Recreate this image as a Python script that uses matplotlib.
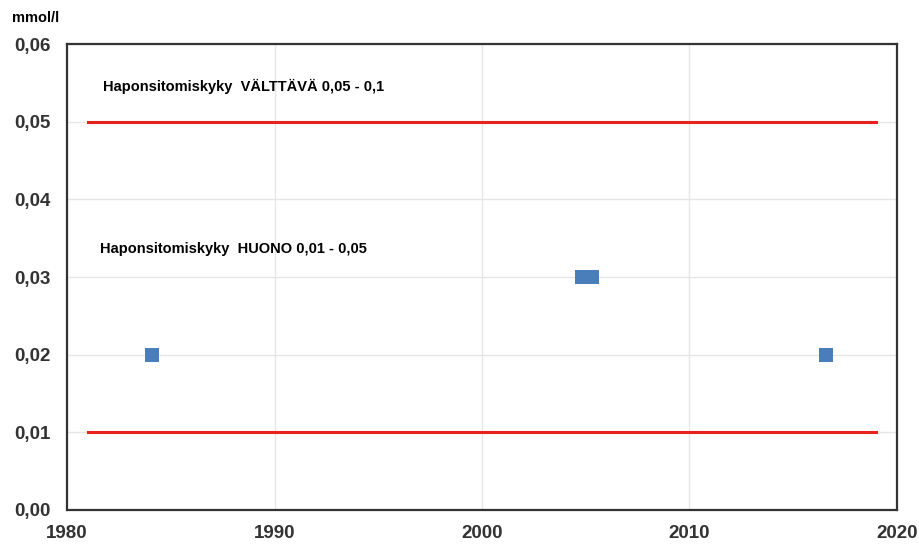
import matplotlib.pyplot as plt
import numpy as np

plt.rcParams['font.family'] = ['Liberation Sans', 'DejaVu Sans']

# data
years = [1984.1, 2004.8, 2005.3, 2016.6]
values = [0.02, 0.03, 0.03, 0.02]
limit_years = [1981, 2019]
limits = [0.05, 0.01]
xticks = [1980, 1990, 2000, 2010, 2020]
yticks = [0.0, 0.01, 0.02, 0.03, 0.04, 0.05, 0.06]

fig = plt.figure(figsize=(9.19, 5.46), dpi=100)
ax = fig.add_axes([0.073, 0.066, 0.903, 0.853])

for lim in limits:
    ax.plot(limit_years, [lim, lim], color='#e8231c', lw=2.2, zorder=3)

ax.scatter(years, values, marker='s', s=110, color='#4a7ebb', zorder=4, linewidths=0)

ax.text(1981.75, 0.0546, 'Haponsitomiskyky  VÄLTTÄVÄ 0,05 - 0,1', fontsize=10.5,
        fontweight='bold', va='center')
ax.text(1981.6, 0.0336, 'Haponsitomiskyky  HUONO 0,01 - 0,05', fontsize=10.5,
        fontweight='bold', va='center')

ax.set_xlim(1980, 2020)
ax.set_ylim(0, 0.06)
ax.set_xticks(xticks)
ax.set_yticks(yticks)
ax.set_yticklabels(['{:.2f}'.format(v).replace('.', ',') for v in yticks])
ax.tick_params(length=0, labelsize=13.5)
ax.tick_params(axis='x', pad=11)
ax.tick_params(axis='y', pad=12)
for lab in ax.get_xticklabels() + ax.get_yticklabels():
    lab.set_fontweight('bold')
    lab.set_color('#333333')
ax.grid(True, color='#e6e6e6', lw=1)
ax.set_axisbelow(True)
for sp in ax.spines.values():
    sp.set_color('#333333')
    sp.set_linewidth(1.6)

fig.text(0.013, 0.967, 'mmol/l', fontsize=10.5, fontweight='bold', va='center')

fig.savefig('out.png', dpi=100)
